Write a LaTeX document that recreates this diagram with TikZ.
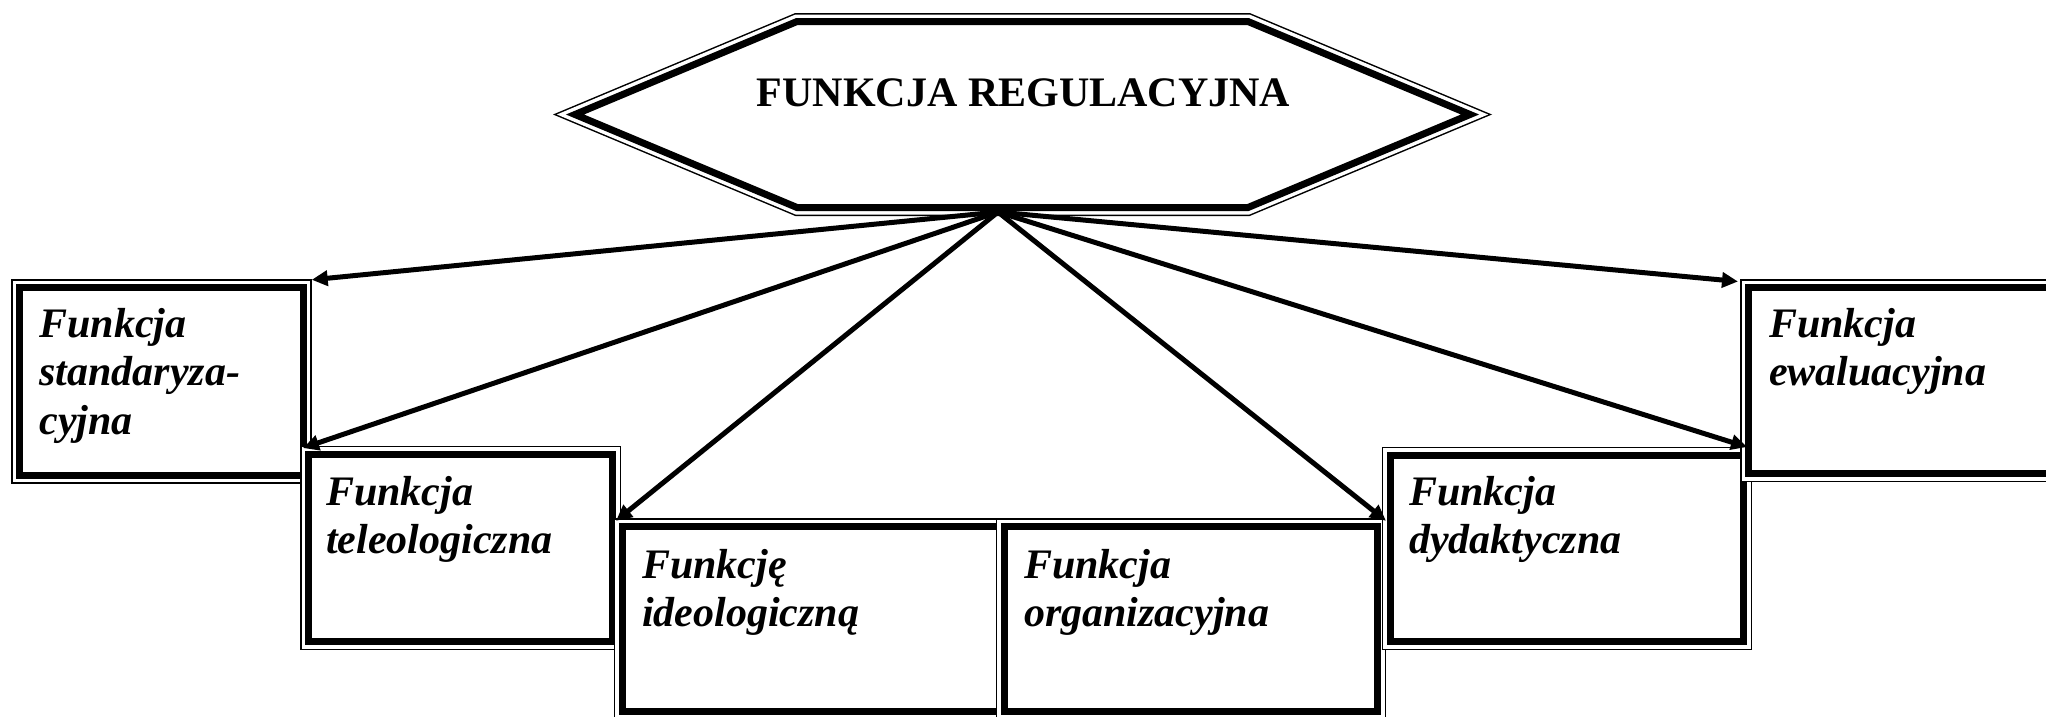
\documentclass[tikz,border=0pt]{standalone}
\usepackage{fontspec}
\setmainfont{Liberation Serif}
\usetikzlibrary{arrows.meta}
\begin{document}
\begin{tikzpicture}[x=1pt,y=-1pt,
  dbl/.style={preaction={draw,line width=17pt},preaction={draw,white,line width=14pt},preaction={fill=white},draw,line width=7pt,miter limit=10},
  fbox/.style={dbl,rectangle,inner sep=0pt,anchor=north west},
  lbl/.style={anchor=base west,align=left,inner sep=0pt,font=\fontsize{42}{48.5}\selectfont\bfseries\itshape},
  arr/.style={line width=5pt,-{Triangle[length=16pt,width=15pt]}},
]
\useasboundingbox (0,0) rectangle (2046,716);
% hexagon
\draw[dbl] (575,114.5) -- (797,21.5) -- (1248,21.5) -- (1470,114.5) -- (1248,207.5) -- (797,207.5) -- cycle;
\node[anchor=base,inner sep=0pt,font=\fontsize{42}{48}\selectfont\bfseries] (hex) at (1023.5,106) {FUNKCJA REGULACYJNA};
\coordinate (src) at (998,212);
% boxes
\node[fbox,minimum width=283.7pt,minimum height=187.2pt] (A) at (16,284.3) {};
\node[fbox,minimum width=304pt,minimum height=187.5pt] (B) at (305,450.5) {};
\node[fbox,minimum width=377pt,minimum height=185pt] (C) at (618.5,523.3) {};
\node[fbox,minimum width=373.5pt,minimum height=185pt] (D) at (1000.5,523.3) {};
\node[fbox,minimum width=353.3pt,minimum height=186.5pt] (E) at (1386.7,451.5) {};
\node[fbox,minimum width=400pt,minimum height=186pt] (F) at (1745,284) {};
% labels
\node[lbl] (tA) at (39.3,434.3) {Funkcja\\standaryza-\\cyjna};
\node[lbl] (tB) at (326,553.5) {Funkcja\\teleologiczna};
\node[lbl] (tC) at (642,626.5) {Funkcję\\ideologiczną};
\node[lbl] (tD) at (1024,626.5) {Funkcja\\organizacyjna};
\node[lbl] (tE) at (1409,553.5) {Funkcja\\dydaktyczna};
\node[lbl] (tF) at (1769,385.5) {Funkcja\\ewaluacyjna};
% arrows
\draw[arr] (src) -- ([shift={(5,-4.5)}]A.north east);
\draw[arr] (src) -- ([shift={(-2,-2.5)}]B.north west);
\draw[arr] (src) -- ([shift={(-2.5,-2.5)}]C.north west);
\draw[arr] (src) -- ([shift={(5,-2.5)}]D.north east);
\draw[arr] (src) -- ([shift={(0,-4.5)}]E.north east);
\draw[arr] (src) -- ([shift={(-7,-2.5)}]F.north west);
\end{tikzpicture}
\end{document}
